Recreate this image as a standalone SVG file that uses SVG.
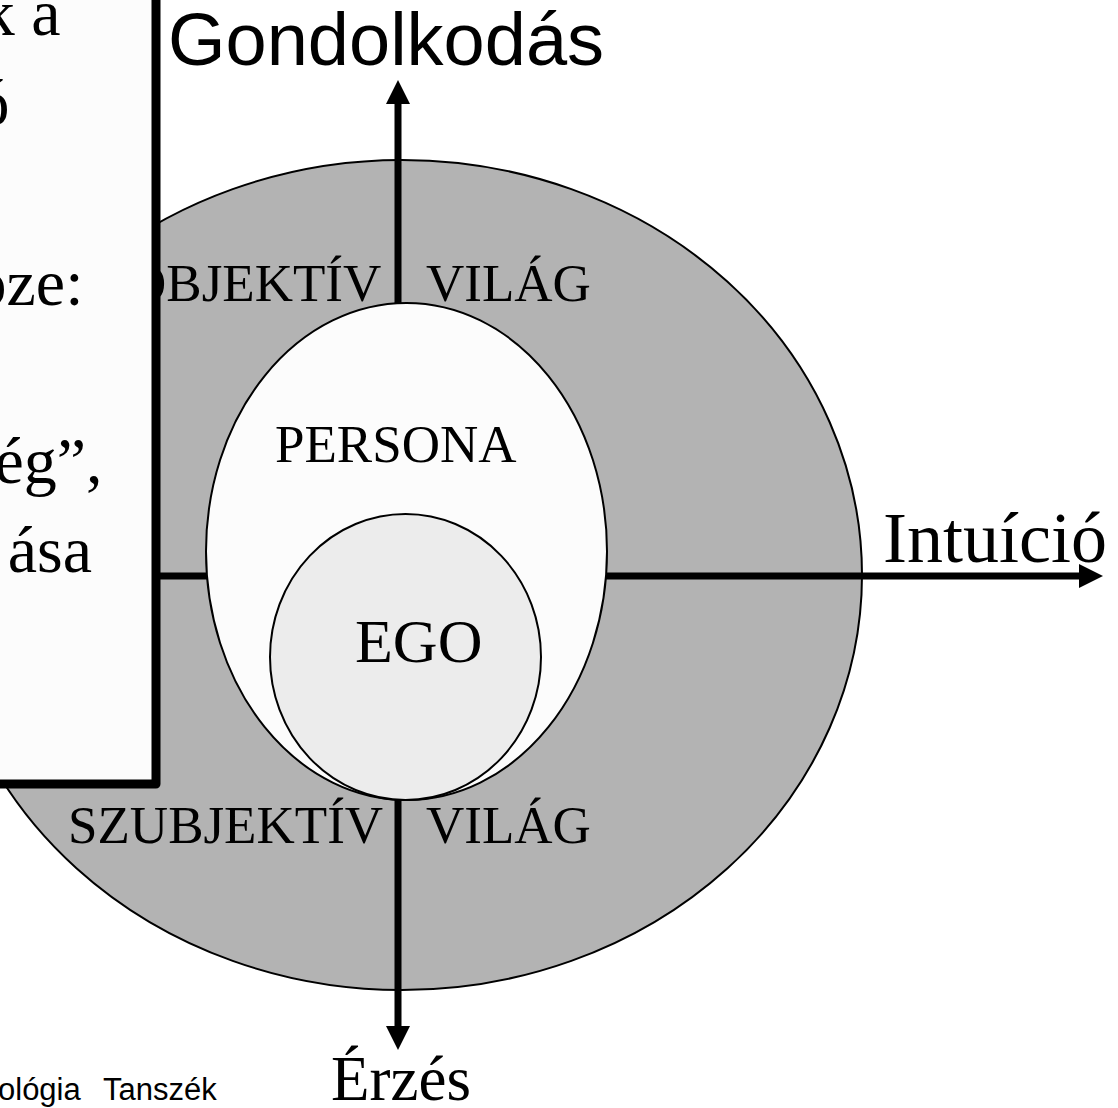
<svg xmlns="http://www.w3.org/2000/svg" width="1118" height="1108" viewBox="0 0 1118 1108">
<style>
.tm{font-family:"Liberation Serif","Times New Roman",serif;fill:#000}
.ar{font-family:"Liberation Sans",Arial,sans-serif;fill:#000}
.shape{stroke:#000;stroke-width:2}
.axis{stroke:#000;stroke-width:7;fill:none}
.head{fill:#000}
</style>
<rect width="1118" height="1108" fill="#fff"/>
<g id="world">
<ellipse class="shape" cx="402" cy="575" rx="460" ry="415" fill="#b3b3b3"/>
</g>
<g id="connectors">
<line class="axis" x1="398" y1="100" x2="398" y2="1028"/>
<polygon class="head" points="398,80 386,104 410,104"/>
<polygon class="head" points="398,1050 386,1026 410,1026"/>
<line class="axis" x1="150" y1="576" x2="1082" y2="576"/>
<polygon class="head" points="1103,576 1079,564 1079,588"/>
</g>
<g id="persona">
<ellipse class="shape" cx="406.5" cy="551.5" rx="200.5" ry="248.5" fill="#fcfcfc"/>
<text class="tm" x="275" y="462" font-size="53">PERSONA</text>
</g>
<g id="ego">
<ellipse class="shape" cx="405.5" cy="657" rx="135.5" ry="143" fill="#ececec"/>
<text class="tm" x="355" y="662" font-size="62">EGO</text>
</g>
<g id="labels">
<text class="tm" x="128" y="301" font-size="53">OBJEKTÍV</text>
<text class="tm" x="426" y="301" font-size="53">VILÁG</text>
<text class="tm" x="68" y="843" font-size="53">SZUBJEKTÍV</text>
<text class="tm" x="426" y="843" font-size="53">VILÁG</text>
</g>
<g id="thinking">
<text class="ar" x="168" y="65" font-size="74">Gondolkodás</text>
</g>
<g id="intuition">
<text class="tm" x="883" y="562" font-size="72">Intuíció</text>
</g>
<g id="feeling">
<text class="tm" x="331" y="1100" font-size="63">Érzés</text>
</g>
<g id="footer">
<text class="ar" font-size="31" y="1100"><tspan x="-2">ológia</tspan><tspan x="103">Tanszék</tspan></text>
</g>
<g id="textbox">
<rect x="-20" y="-20" width="176" height="804" fill="#fcfcfc" stroke="#000" stroke-width="9" stroke-linejoin="round"/>
<text class="tm" font-size="66" text-anchor="end">
<tspan x="77" y="35">k a</tspan>
<tspan x="26" y="125">ó</tspan>
<tspan x="100" y="305">öze:</tspan>
<tspan x="119" y="483">ég”,</tspan>
<tspan x="92" y="572">ása</tspan>
</text>
</g>
</svg>
